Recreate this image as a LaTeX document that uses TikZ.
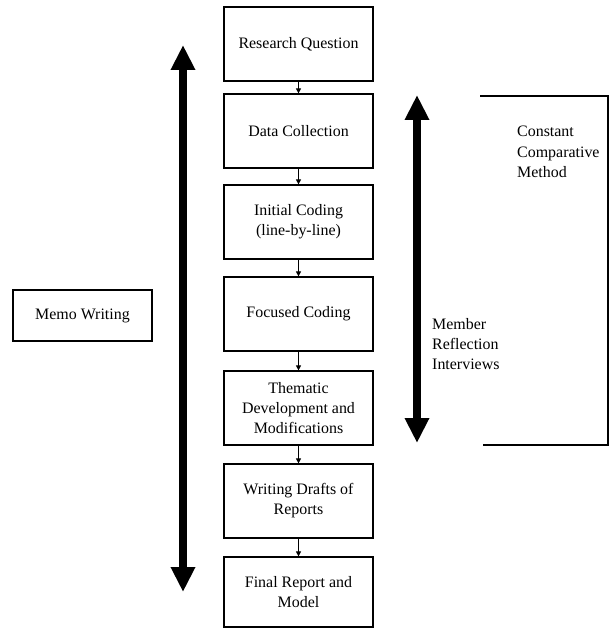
\documentclass[tikz,border=0pt]{standalone}
\usepackage{fontspec}
\setmainfont{Liberation Serif}
\usetikzlibrary{arrows.meta,positioning}
\begin{document}
\begin{tikzpicture}[x=1bp,y=-1bp,
    box/.style={draw,line width=1.2bp,minimum width=149bp,minimum height=74bp,align=center,inner sep=2bp,font=\fontsize{16}{20}\selectfont},
    flow/.style={-{Triangle[length=5bp,width=5bp]},line width=0.8bp},
    big/.style={{Triangle[length=25bp,width=23bp]}-{Triangle[length=25bp,width=23bp]},line width=8bp},
    lbl/.style={align=left,anchor=west,inner sep=0pt,font=\fontsize{16}{20.5}\selectfont}]
    \useasboundingbox(0,0)rectangle(612,629);
    % the steps
    \node[box](rq)at(298.5,44){Research Question};
    \node[box](dc)at(298.5,131){Data Collection};
    \node[box](ic)at(298.5,222){Initial Coding\\(line-by-line)};
    \node[box](fc)at(298.5,314){Focused Coding};
    \node[box](td)at(298.5,408){Thematic\\Development and\\Modifications};
    \node[box](wd)at(298.5,501){Writing Drafts of\\Reports};
    \node[box,minimum height=70bp](fr)at(298.5,592){Final Report and\\Model};
    \foreach \a/\b in{rq/dc,dc/ic,ic/fc,fc/td,td/wd,wd/fr}\draw[flow](\a)--(\b);
    % memo writing
    \node[box,minimum width=139bp,minimum height=51bp](memo)at(82.5,315.5){Memo Writing};
    \coordinate(mtop)at(183,45);\coordinate(mbot)at(183,592);
    \draw[big](mtop)--(mbot);
    % member reflection
    \coordinate(rtop)at(417,95);\coordinate(rbot)at(417,443);
    \draw[big](rtop)--(rbot);
    \node[lbl](mri)at(432,344){Member\\Reflection\\Interviews};
    % constant comparison bracket
    \coordinate(ctl)at(480,96);\coordinate(ctr)at(608,96);
    \coordinate(cbr)at(608,445);\coordinate(cbl)at(483,445);
    \draw[line width=1.5bp](ctl)--(ctr)--(cbr)--(cbl);
    \node[lbl](ccm)at(517,152){Constant\\Comparative\\Method};
\end{tikzpicture}
\end{document}
